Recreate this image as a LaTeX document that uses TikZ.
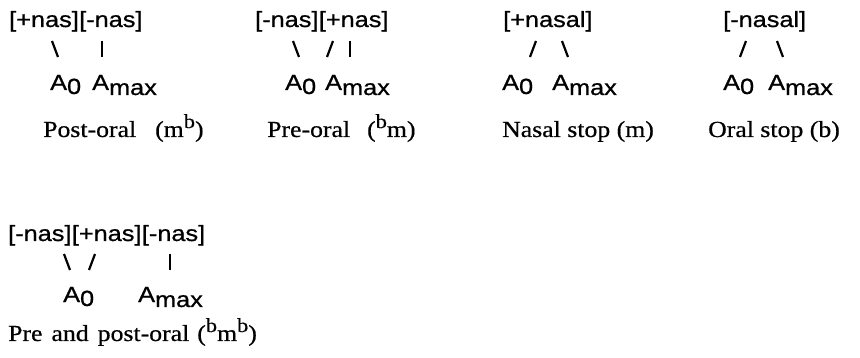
\documentclass[tikz,border=0pt]{standalone}
\usepackage{fontspec}
\setmainfont{Liberation Serif}[FakeStretch=1.12,FakeBold=0.6]
\newfontfamily\featfont{Liberation Sans}[FakeStretch=1.15,FakeBold=0.8]
\newcommand\supb{\raisebox{9pt}{\fontsize{20}{20}\selectfont b}}
\newcommand\Azero{A\raisebox{-4pt}{0}}
\newcommand\Amaxi{A\raisebox{-5pt}{max}}
\tikzset{
  feat/.style={anchor=base west, inner sep=0pt, font=\featfont\fontsize{22}{24}\selectfont},
  lab/.style={anchor=base west, inner sep=0pt, font=\fontsize{23}{26}\selectfont},
  conn/.style={line width=2.2pt, line cap=butt}
}
\begin{document}
\begin{tikzpicture}[x=1pt,y=-1pt]
\useasboundingbox (0,0) rectangle (860,358);
% ---------- Group 1: Post-oral ----------
\node[feat] (g1f1) at (9,27) {[+nas]};
\node[feat] (g1f2) at (g1f1.base east) {[-nas]};
\coordinate (g1s1t) at (52,41); \coordinate (g1s1b) at (58,57);
\coordinate (g1s2t) at (102,41); \coordinate (g1s2b) at (102,57);
\draw[conn] (g1s1t) -- (g1s1b);
\draw[conn] (g1s2t) -- (g1s2b);
\node[feat] (g1a0) at (50,90) {\Azero};
\node[feat] (g1am) at (92,90) {\Amaxi};
\node[lab] (g1l) at (43,137) {Post-oral\hspace{19pt}(m\supb)};
% ---------- Group 2: Pre-oral ----------
\node[feat] (g2f1) at (255,27) {[-nas]};
\node[feat] (g2f2) at (g2f1.base east) {[+nas]};
\coordinate (g2s1t) at (293,41); \coordinate (g2s1b) at (299,57);
\coordinate (g2s2t) at (333,41); \coordinate (g2s2b) at (327,57);
\coordinate (g2s3t) at (350,41); \coordinate (g2s3b) at (350,57);
\draw[conn] (g2s1t) -- (g2s1b);
\draw[conn] (g2s2t) -- (g2s2b);
\draw[conn] (g2s3t) -- (g2s3b);
\node[feat] (g2a0) at (285,90) {\Azero};
\node[feat] (g2am) at (325,90) {\Amaxi};
\node[lab] (g2l) at (267,137) {Pre-oral\hspace{17pt}(\supb m)};
% ---------- Group 3: Nasal stop ----------
\node[feat] (g3f) at (503,27) {[+nasal]};
\coordinate (g3s1t) at (536,41); \coordinate (g3s1b) at (530,57);
\coordinate (g3s2t) at (562,41); \coordinate (g3s2b) at (568,57);
\draw[conn] (g3s1t) -- (g3s1b);
\draw[conn] (g3s2t) -- (g3s2b);
\node[feat] (g3a0) at (502,90) {\Azero};
\node[feat] (g3am) at (552,90) {\Amaxi};
\node[lab] (g3l) at (502,137) {Nasal stop (m)};
% ---------- Group 4: Oral stop ----------
\node[feat] (g4f) at (723,27) {[-nasal]};
\coordinate (g4s1t) at (746,41); \coordinate (g4s1b) at (740,57);
\coordinate (g4s2t) at (777,41); \coordinate (g4s2b) at (783,57);
\draw[conn] (g4s1t) -- (g4s1b);
\draw[conn] (g4s2t) -- (g4s2b);
\node[feat] (g4a0) at (723,90) {\Azero};
\node[feat] (g4am) at (768,90) {\Amaxi};
\node[lab] (g4l) at (708,137) {Oral stop (b)};
% ---------- Group 5: Pre and post-oral ----------
\node[feat] (g5f1) at (8,241) {[-nas]};
\node[feat] (g5f2) at (g5f1.base east) {[+nas]};
\node[feat] (g5f3) at (g5f2.base east) {[-nas]};
\coordinate (g5s1t) at (64,254); \coordinate (g5s1b) at (70,270);
\coordinate (g5s2t) at (95,254); \coordinate (g5s2b) at (89,270);
\coordinate (g5s3t) at (170,254); \coordinate (g5s3b) at (170,270);
\draw[conn] (g5s1t) -- (g5s1b);
\draw[conn] (g5s2t) -- (g5s2b);
\draw[conn] (g5s3t) -- (g5s3b);
\node[feat] (g5a0) at (63,302) {\Azero};
\node[feat] (g5am) at (138,302) {\Amaxi};
\node[lab] (g5l) at (8,341) {Pre\hspace{9pt}and\hspace{9pt}post-oral\hspace{8pt}(\supb m\supb)};
\end{tikzpicture}
\end{document}
